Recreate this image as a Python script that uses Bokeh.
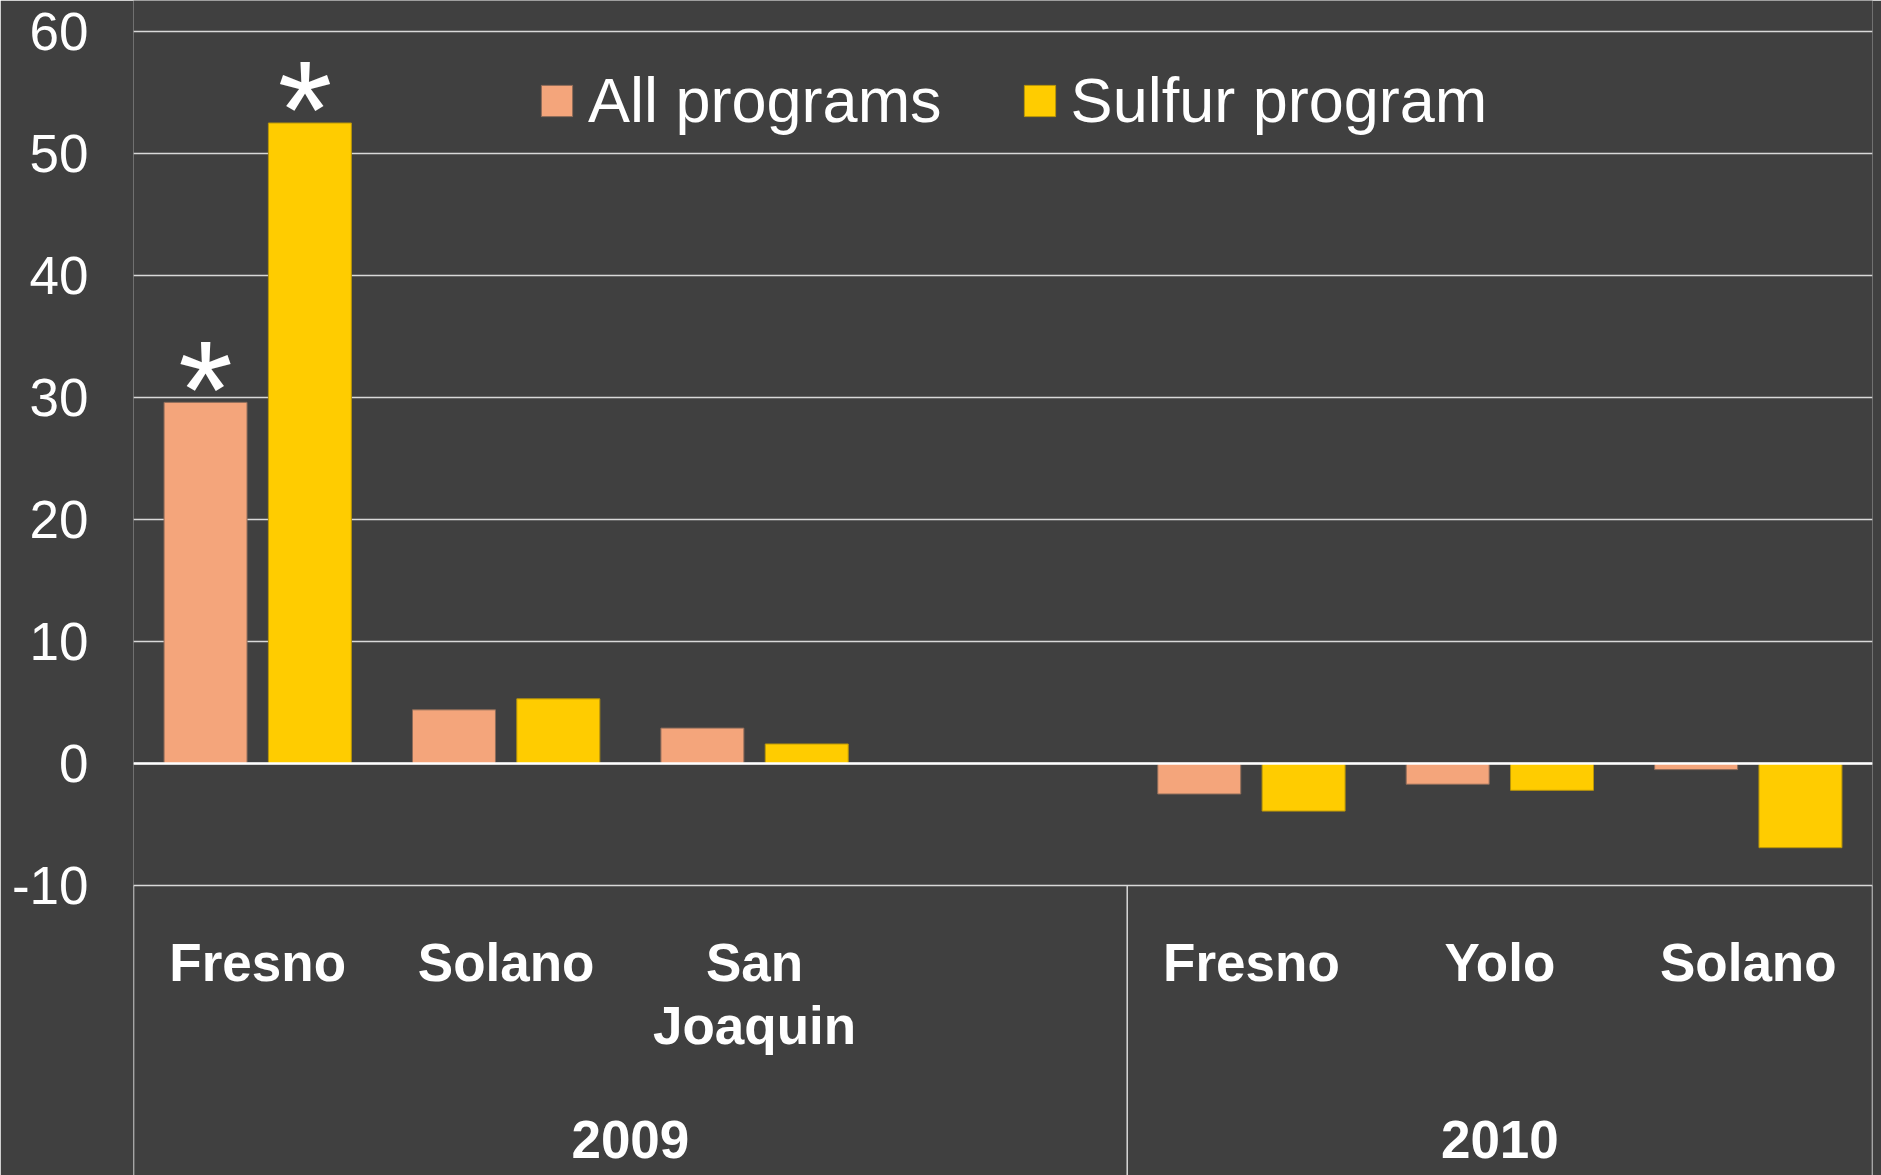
from bokeh.plotting import figure
from bokeh.models import ColumnDataSource, FactorRange, FixedTicker, Legend, LegendItem, Span
from bokeh.transform import dodge
from bokeh.core.properties import value
from bokeh.embed import file_html
from bokeh.resources import INLINE

# ---- data ----
years = ["2009", "2009", "2009", "2009", "2010", "2010", "2010"]
counties = ["Fresno", "Solano", "San Joaquin", " ", "Fresno", "Yolo", "Solano"]
all_programs = [29.6, 4.4, 2.9, None, -2.5, -1.7, -0.5]
sulfur_program = [52.5, 5.3, 1.6, None, -3.9, -2.2, -6.9]
significant_all = [True, False, False, False, False, False, False]
significant_sulfur = [True, False, False, False, False, False, False]
series_names = ["All programs", "Sulfur program"]
y_ticks = [-10, 0, 10, 20, 30, 40, 50, 60]

# ---- style ----
BG = "#404040"
FONT = "Liberation Sans"
C_ALL = "#F4A57B"
C_SUL = "#FFCC00"
GRID = "#d9d9d9"

factors = list(zip(years, counties))
x_range = FactorRange(*factors, factor_padding=0, group_padding=0,
                      subgroup_padding=0, range_padding=0)

p = figure(width=1881, height=1175, x_range=x_range, y_range=(-33.77, 62.54),
           x_axis_location=None, output_backend="svg", toolbar_location=None,
           min_border_left=133, min_border_right=9, min_border_top=0,
           min_border_bottom=0, background_fill_color=BG, border_fill_color=BG,
           outline_line_color=None)

p.yaxis.ticker = FixedTicker(ticks=y_ticks)
p.yaxis.major_label_overrides = {t: str(t) for t in y_ticks}
p.yaxis.major_label_text_font = FONT
p.yaxis.major_label_text_font_size = "53px"
p.yaxis.major_label_text_color = "white"
p.yaxis.axis_line_color = None
p.yaxis.major_tick_line_color = None
p.yaxis.minor_tick_line_color = None
p.yaxis.major_tick_out = 0
p.yaxis.major_tick_in = 0
p.yaxis.major_label_standoff = 45

p.ygrid.ticker = FixedTicker(ticks=y_ticks)
p.ygrid.grid_line_color = GRID
p.ygrid.grid_line_width = 1.5
p.xgrid.grid_line_color = None

# bars
idx = [i for i, v in enumerate(all_programs) if v is not None]
bar_src = ColumnDataSource(dict(
    x=[factors[i] for i in idx],
    all=[all_programs[i] for i in idx],
    sulfur=[sulfur_program[i] for i in idx],
))
r_all = p.vbar(x=dodge("x", -0.21, range=p.x_range), top="all", bottom=0, width=0.334,
               source=bar_src, fill_color=C_ALL, line_color="#8e6c5a", line_width=1)
r_sul = p.vbar(x=dodge("x", 0.21, range=p.x_range), top="sulfur", bottom=0, width=0.334,
               source=bar_src, fill_color=C_SUL, line_color="#b8950a", line_width=1)

p.add_layout(Span(location=0, dimension="width", line_color="white", line_width=2.5))

# significance asterisks
star_all = ColumnDataSource(dict(
    x=[factors[i] for i, s in enumerate(significant_all) if s],
    y=[all_programs[i] for i, s in enumerate(significant_all) if s]))
star_sul = ColumnDataSource(dict(
    x=[factors[i] for i, s in enumerate(significant_sulfur) if s],
    y=[sulfur_program[i] for i, s in enumerate(significant_sulfur) if s]))
for src, off in ((star_all, -0.21), (star_sul, 0.19)):
    p.text(x=dodge("x", off, range=p.x_range), y="y", text=value("*"), source=src,
           text_font=value(FONT), text_font_size="140px", text_color="white",
           text_align="center", text_baseline="alphabetic", y_offset=-13)

# category box lines
group_first = [factors[i] for i in range(len(factors)) if i == 0 or years[i] != years[i - 1]]
ybox_top = y_ticks[0]
ybox_bot = p.y_range.start - 5
p.segment(x0=dodge("x", -0.5, range=p.x_range), x1=dodge("x", -0.5, range=p.x_range),
          y0=ybox_top, y1=ybox_bot, source=ColumnDataSource(dict(x=group_first)),
          line_color=GRID, line_width=1.5)
p.segment(x0=dodge("x", 0.5, range=p.x_range), x1=dodge("x", 0.5, range=p.x_range),
          y0=ybox_top, y1=ybox_bot, source=ColumnDataSource(dict(x=[factors[-1]])),
          line_color=GRID, line_width=1.5)

# category labels
lab_idx = [i for i, c in enumerate(counties) if c.strip()]
lab_src = ColumnDataSource(dict(
    x=[factors[i] for i in lab_idx],
    text=[counties[i].replace(" ", "\n") for i in lab_idx]))
p.text(x="x", y=ybox_top, text="text", source=lab_src, text_font=value(FONT),
       text_font_style="bold", text_font_size="53px", text_color="white",
       text_align="center", text_baseline="top", y_offset=47, text_line_height=1.07)

groups = list(dict.fromkeys(years))
p.text(x=groups, y=[ybox_top] * len(groups), text=groups, text_font=value(FONT),
       text_font_style="bold", text_font_size="53px", text_color="white",
       text_align="center", text_baseline="top", y_offset=235)

legend = Legend(items=[LegendItem(label=series_names[0], renderers=[r_all]),
                       LegendItem(label=series_names[1], renderers=[r_sul])],
                orientation="horizontal", location=(404, 1039),
                glyph_width=39, glyph_height=39, label_standoff=12, spacing=78,
                padding=0, margin=0, border_line_color=None, background_fill_alpha=0,
                label_text_font=FONT, label_text_font_size="63px", label_text_color="white")
p.add_layout(legend)

open("out.html", "w").write(file_html(p, INLINE))
